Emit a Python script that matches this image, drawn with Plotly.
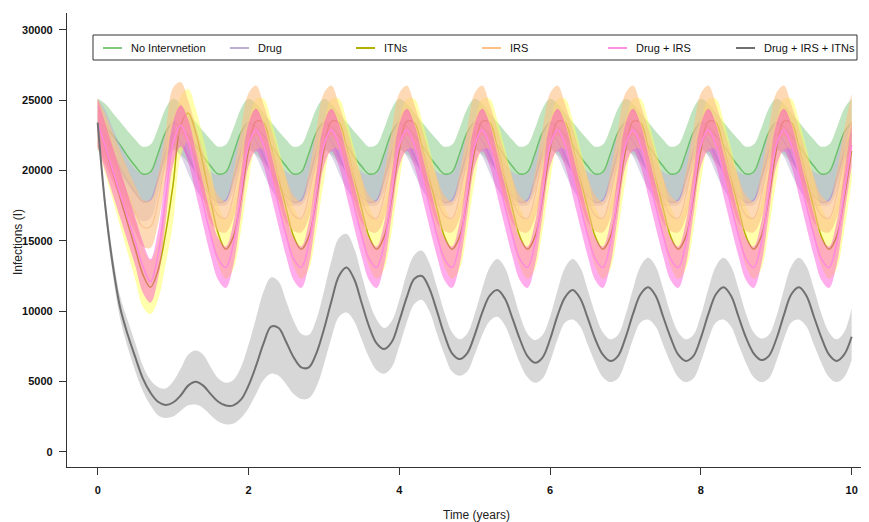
import plotly.graph_objects as go

# ---------------- data ----------------
years = [round(0.1 * i, 1) for i in range(101)]

series_names = ["No Intervnetion", "Drug", "ITNs", "IRS", "Drug + IRS", "Drug + IRS + ITNs"]

no_int_mean = [
    23400, 23100, 22500, 21800, 21000, 20300, 19750, 19900, 21200, 22700,
    23400, 23100, 22500, 21800, 21000, 20300, 19750, 19900, 21200, 22700,
    23400, 23100, 22500, 21800, 21000, 20300, 19750, 19900, 21200, 22700,
    23400, 23100, 22500, 21800, 21000, 20300, 19750, 19900, 21200, 22700,
    23400, 23100, 22500, 21800, 21000, 20300, 19750, 19900, 21200, 22700,
    23400, 23100, 22500, 21800, 21000, 20300, 19750, 19900, 21200, 22700,
    23400, 23100, 22500, 21800, 21000, 20300, 19750, 19900, 21200, 22700,
    23400, 23100, 22500, 21800, 21000, 20300, 19750, 19900, 21200, 22700,
    23400, 23100, 22500, 21800, 21000, 20300, 19750, 19900, 21200, 22700,
    23400, 23100, 22500, 21800, 21000, 20300, 19750, 19900, 21200, 22700,
    23400]
no_int_hi = [
    25100, 24750, 24100, 23450, 22800, 22200, 21700, 21850, 23000, 24400,
    25100, 24750, 24100, 23450, 22800, 22200, 21700, 21850, 23000, 24400,
    25100, 24750, 24100, 23450, 22800, 22200, 21700, 21850, 23000, 24400,
    25100, 24750, 24100, 23450, 22800, 22200, 21700, 21850, 23000, 24400,
    25100, 24750, 24100, 23450, 22800, 22200, 21700, 21850, 23000, 24400,
    25100, 24750, 24100, 23450, 22800, 22200, 21700, 21850, 23000, 24400,
    25100, 24750, 24100, 23450, 22800, 22200, 21700, 21850, 23000, 24400,
    25100, 24750, 24100, 23450, 22800, 22200, 21700, 21850, 23000, 24400,
    25100, 24750, 24100, 23450, 22800, 22200, 21700, 21850, 23000, 24400,
    25100, 24750, 24100, 23450, 22800, 22200, 21700, 21850, 23000, 24400,
    25100]
no_int_lo = [
    21450, 21150, 20550, 19850, 19050, 18350, 17800, 17950, 19250, 20750,
    21450, 21150, 20550, 19850, 19050, 18350, 17800, 17950, 19250, 20750,
    21450, 21150, 20550, 19850, 19050, 18350, 17800, 17950, 19250, 20750,
    21450, 21150, 20550, 19850, 19050, 18350, 17800, 17950, 19250, 20750,
    21450, 21150, 20550, 19850, 19050, 18350, 17800, 17950, 19250, 20750,
    21450, 21150, 20550, 19850, 19050, 18350, 17800, 17950, 19250, 20750,
    21450, 21150, 20550, 19850, 19050, 18350, 17800, 17950, 19250, 20750,
    21450, 21150, 20550, 19850, 19050, 18350, 17800, 17950, 19250, 20750,
    21450, 21150, 20550, 19850, 19050, 18350, 17800, 17950, 19250, 20750,
    21450, 21150, 20550, 19850, 19050, 18350, 17800, 17950, 19250, 20750,
    21450]

drug_mean = [
    23400, 22500, 21300, 20200, 19200, 18400, 17800, 17900, 19400, 21300,
    22600, 22100, 21000, 19900, 18900, 18200, 17750, 17900, 19400, 21300,
    22600, 22100, 21000, 19900, 18900, 18200, 17750, 17900, 19400, 21300,
    22600, 22100, 21000, 19900, 18900, 18200, 17750, 17900, 19400, 21300,
    22600, 22100, 21000, 19900, 18900, 18200, 17750, 17900, 19400, 21300,
    22600, 22100, 21000, 19900, 18900, 18200, 17750, 17900, 19400, 21300,
    22600, 22100, 21000, 19900, 18900, 18200, 17750, 17900, 19400, 21300,
    22600, 22100, 21000, 19900, 18900, 18200, 17750, 17900, 19400, 21300,
    22600, 22100, 21000, 19900, 18900, 18200, 17750, 17900, 19400, 21300,
    22600, 22100, 21000, 19900, 18900, 18200, 17750, 17900, 19400, 21300,
    22600]
drug_hi = [
    25100, 24300, 23000, 21800, 20800, 20100, 19700, 19800, 21000, 22600,
    23500, 23200, 22400, 21500, 20600, 19900, 19700, 19800, 21000, 22600,
    23500, 23200, 22400, 21500, 20600, 19900, 19700, 19800, 21000, 22600,
    23500, 23200, 22400, 21500, 20600, 19900, 19700, 19800, 21000, 22600,
    23500, 23200, 22400, 21500, 20600, 19900, 19700, 19800, 21000, 22600,
    23500, 23200, 22400, 21500, 20600, 19900, 19700, 19800, 21000, 22600,
    23500, 23200, 22400, 21500, 20600, 19900, 19700, 19800, 21000, 22600,
    23500, 23200, 22400, 21500, 20600, 19900, 19700, 19800, 21000, 22600,
    23500, 23200, 22400, 21500, 20600, 19900, 19700, 19800, 21000, 22600,
    23500, 23200, 22400, 21500, 20600, 19900, 19700, 19800, 21000, 22600,
    23500]
drug_lo = [
    21700, 20700, 19600, 18500, 17500, 16800, 16400, 16600, 18300, 20200,
    21600, 21000, 19800, 18700, 17900, 17500, 17500, 17550, 18500, 20200,
    21600, 21000, 19800, 18700, 17900, 17500, 17500, 17550, 18500, 20200,
    21600, 21000, 19800, 18700, 17900, 17500, 17500, 17550, 18500, 20200,
    21600, 21000, 19800, 18700, 17900, 17500, 17500, 17550, 18500, 20200,
    21600, 21000, 19800, 18700, 17900, 17500, 17500, 17550, 18500, 20200,
    21600, 21000, 19800, 18700, 17900, 17500, 17500, 17550, 18500, 20200,
    21600, 21000, 19800, 18700, 17900, 17500, 17500, 17550, 18500, 20200,
    21600, 21000, 19800, 18700, 17900, 17500, 17500, 17550, 18500, 20200,
    21600, 21000, 19800, 18700, 17900, 17500, 17500, 17550, 18500, 20200,
    21600]

itn_mean = [
    23400, 21600, 19800, 18000, 16200, 14400, 12600, 11700, 12900, 15500,
    19000, 23200, 24100, 22700, 20400, 17800, 15500, 14400, 15300, 18000,
    21400, 23500, 23400, 21600, 19500, 17300, 15300, 14400, 15300, 18000,
    21400, 23500, 23400, 21600, 19500, 17300, 15300, 14400, 15300, 18000,
    21400, 23500, 23400, 21600, 19500, 17300, 15300, 14400, 15300, 18000,
    21400, 23500, 23400, 21600, 19500, 17300, 15300, 14400, 15300, 18000,
    21400, 23500, 23400, 21600, 19500, 17300, 15300, 14400, 15300, 18000,
    21400, 23500, 23400, 21600, 19500, 17300, 15300, 14400, 15300, 18000,
    21400, 23500, 23400, 21600, 19500, 17300, 15300, 14400, 15300, 18000,
    21400, 23500, 23400, 21600, 19500, 17300, 15300, 14400, 15300, 18000,
    21400]
itn_hi = [
    25100, 23500, 21800, 20000, 18200, 16400, 14600, 13600, 14900, 17600,
    21800, 25300, 25800, 24400, 22300, 19900, 17500, 16500, 17700, 20300,
    23300, 25100, 25100, 23600, 21600, 19400, 17400, 16500, 17700, 20300,
    23300, 25100, 25100, 23600, 21600, 19400, 17400, 16500, 17700, 20300,
    23300, 25100, 25100, 23600, 21600, 19400, 17400, 16500, 17700, 20300,
    23300, 25100, 25100, 23600, 21600, 19400, 17400, 16500, 17700, 20300,
    23300, 25100, 25100, 23600, 21600, 19400, 17400, 16500, 17700, 20300,
    23300, 25100, 25100, 23600, 21600, 19400, 17400, 16500, 17700, 20300,
    23300, 25100, 25100, 23600, 21600, 19400, 17400, 16500, 17700, 20300,
    23300, 25100, 25100, 23600, 21600, 19400, 17400, 16500, 17700, 20300,
    23300]
itn_lo = [
    21700, 19800, 17900, 16000, 14100, 12200, 10300, 9800, 10800, 13300,
    16300, 21000, 22100, 20700, 18300, 15600, 13300, 12300, 13000, 15700,
    19200, 21500, 21500, 19700, 17500, 15200, 13200, 12300, 13000, 15700,
    19200, 21500, 21500, 19700, 17500, 15200, 13200, 12300, 13000, 15700,
    19200, 21500, 21500, 19700, 17500, 15200, 13200, 12300, 13000, 15700,
    19200, 21500, 21500, 19700, 17500, 15200, 13200, 12300, 13000, 15700,
    19200, 21500, 21500, 19700, 17500, 15200, 13200, 12300, 13000, 15700,
    19200, 21500, 21500, 19700, 17500, 15200, 13200, 12300, 13000, 15700,
    19200, 21500, 21500, 19700, 17500, 15200, 13200, 12300, 13000, 15700,
    19200, 21500, 21500, 19700, 17500, 15200, 13200, 12300, 13000, 15700,
    19200]

irs_mean = [
    23400, 22200, 20900, 19600, 18300, 17000, 16000, 16000, 17800, 20800,
    23700, 24500, 23500, 21600, 19700, 17900, 16800, 16600, 18200, 21000,
    23500, 24300, 23300, 21500, 19600, 17900, 16800, 16600, 18200, 21000,
    23500, 24300, 23300, 21500, 19600, 17900, 16800, 16600, 18200, 21000,
    23500, 24300, 23300, 21500, 19600, 17900, 16800, 16600, 18200, 21000,
    23500, 24300, 23300, 21500, 19600, 17900, 16800, 16600, 18200, 21000,
    23500, 24300, 23300, 21500, 19600, 17900, 16800, 16600, 18200, 21000,
    23500, 24300, 23300, 21500, 19600, 17900, 16800, 16600, 18200, 21000,
    23500, 24300, 23300, 21500, 19600, 17900, 16800, 16600, 18200, 21000,
    23500, 24300, 23300, 21500, 19600, 17900, 16800, 16600, 18200, 21000,
    23500]
irs_hi = [
    25100, 24000, 22700, 21400, 20100, 18900, 17900, 17900, 19600, 22700,
    25900, 26300, 25000, 23100, 21300, 19500, 18200, 17800, 19800, 22900,
    25500, 26050, 24700, 23000, 21200, 19500, 18200, 17800, 19800, 22900,
    25500, 26050, 24700, 23000, 21200, 19500, 18200, 17800, 19800, 22900,
    25500, 26050, 24700, 23000, 21200, 19500, 18200, 17800, 19800, 22900,
    25500, 26050, 24700, 23000, 21200, 19500, 18200, 17800, 19800, 22900,
    25500, 26050, 24700, 23000, 21200, 19500, 18200, 17800, 19800, 22900,
    25500, 26050, 24700, 23000, 21200, 19500, 18200, 17800, 19800, 22900,
    25500, 26050, 24700, 23000, 21200, 19500, 18200, 17800, 19800, 22900,
    25500, 26050, 24700, 23000, 21200, 19500, 18200, 17800, 19800, 22900,
    25500]
irs_lo = [
    21600, 20400, 19200, 18000, 16800, 15600, 14600, 14500, 16200, 19200,
    21500, 22600, 21700, 19900, 18000, 16300, 15700, 15600, 16600, 19000,
    21500, 22500, 21500, 19700, 17900, 16300, 15700, 15600, 16600, 19000,
    21500, 22500, 21500, 19700, 17900, 16300, 15700, 15600, 16600, 19000,
    21500, 22500, 21500, 19700, 17900, 16300, 15700, 15600, 16600, 19000,
    21500, 22500, 21500, 19700, 17900, 16300, 15700, 15600, 16600, 19000,
    21500, 22500, 21500, 19700, 17900, 16300, 15700, 15600, 16600, 19000,
    21500, 22500, 21500, 19700, 17900, 16300, 15700, 15600, 16600, 19000,
    21500, 22500, 21500, 19700, 17900, 16300, 15700, 15600, 16600, 19000,
    21500, 22500, 21500, 19700, 17900, 16300, 15700, 15600, 16600, 19000,
    21500]

drug_irs_mean = [
    23400, 21700, 20000, 18300, 16600, 14900, 13200, 12100, 14000, 18000,
    21900, 23200, 22100, 19900, 17600, 15400, 13700, 13100, 14800, 18300,
    21800, 22900, 21800, 19700, 17500, 15400, 13700, 13100, 14800, 18300,
    21800, 22900, 21800, 19700, 17500, 15400, 13700, 13100, 14800, 18300,
    21800, 22900, 21800, 19700, 17500, 15400, 13700, 13100, 14800, 18300,
    21800, 22900, 21800, 19700, 17500, 15400, 13700, 13100, 14800, 18300,
    21800, 22900, 21800, 19700, 17500, 15400, 13700, 13100, 14800, 18300,
    21800, 22900, 21800, 19700, 17500, 15400, 13700, 13100, 14800, 18300,
    21800, 22900, 21800, 19700, 17500, 15400, 13700, 13100, 14800, 18300,
    21800, 22900, 21800, 19700, 17500, 15400, 13700, 13100, 14800, 18300,
    21800]
drug_irs_hi = [
    25100, 23400, 21700, 20000, 18300, 16600, 14900, 13700, 15700, 19700,
    23400, 24650, 23600, 21400, 19100, 16900, 15200, 14600, 16300, 19800,
    23300, 24400, 23300, 21200, 19000, 16900, 15200, 14600, 16300, 19800,
    23300, 24400, 23300, 21200, 19000, 16900, 15200, 14600, 16300, 19800,
    23300, 24400, 23300, 21200, 19000, 16900, 15200, 14600, 16300, 19800,
    23300, 24400, 23300, 21200, 19000, 16900, 15200, 14600, 16300, 19800,
    23300, 24400, 23300, 21200, 19000, 16900, 15200, 14600, 16300, 19800,
    23300, 24400, 23300, 21200, 19000, 16900, 15200, 14600, 16300, 19800,
    23300, 24400, 23300, 21200, 19000, 16900, 15200, 14600, 16300, 19800,
    23300, 24400, 23300, 21200, 19000, 16900, 15200, 14600, 16300, 19800,
    23300]
drug_irs_lo = [
    21700, 20000, 18300, 16600, 14900, 13200, 11300, 10600, 12300, 16300,
    20400, 21700, 20600, 18400, 16100, 13900, 12200, 11650, 13300, 16800,
    20300, 21400, 20300, 18200, 16000, 13900, 12200, 11650, 13300, 16800,
    20300, 21400, 20300, 18200, 16000, 13900, 12200, 11650, 13300, 16800,
    20300, 21400, 20300, 18200, 16000, 13900, 12200, 11650, 13300, 16800,
    20300, 21400, 20300, 18200, 16000, 13900, 12200, 11650, 13300, 16800,
    20300, 21400, 20300, 18200, 16000, 13900, 12200, 11650, 13300, 16800,
    20300, 21400, 20300, 18200, 16000, 13900, 12200, 11650, 13300, 16800,
    20300, 21400, 20300, 18200, 16000, 13900, 12200, 11650, 13300, 16800,
    20300, 21400, 20300, 18200, 16000, 13900, 12200, 11650, 13300, 16800,
    20300]

all3_mean = [
    23400, 17500, 13300, 10200, 8300, 6700, 5200, 4200, 3550, 3330,
    3500, 4000, 4700, 4980, 4700, 4100, 3550, 3280, 3300, 3700,
    4700, 6100, 7700, 8900, 8800, 7800, 6700, 6000, 6000, 7000,
    8700, 10700, 12500, 13100, 12300, 10600, 8900, 7700, 7300, 7800,
    9300, 11000, 12300, 12500, 11600, 10000, 8300, 7000, 6600, 7000,
    8300, 9900, 11100, 11500, 10900, 9500, 8000, 6800, 6330, 6700,
    8000, 9700, 11000, 11500, 10900, 9500, 8000, 6900, 6450, 6800,
    8100, 9800, 11200, 11700, 11100, 9600, 8100, 6900, 6460, 6800,
    8100, 9800, 11200, 11700, 11100, 9600, 8100, 7000, 6520, 6800,
    8000, 9700, 11200, 11700, 11100, 9600, 8100, 6900, 6450, 6900,
    8180]
all3_hi = [
    23700, 18100, 14000, 11000, 9300, 7700, 6100, 5100, 4600, 4500,
    5000, 5900, 6900, 7200, 6900, 6000, 5200, 4900, 5100, 6000,
    7600, 9500, 11400, 12400, 12100, 10700, 9300, 8400, 8300, 9400,
    11400, 13600, 15200, 15500, 14500, 12600, 10700, 9400, 8800, 9300,
    10800, 12700, 14000, 14300, 13400, 11700, 9900, 8500, 8000, 8400,
    9800, 11600, 13100, 13700, 13100, 11500, 9700, 8400, 7950, 8300,
    9600, 11500, 13100, 13700, 13100, 11500, 9800, 8500, 8000, 8300,
    9700, 11600, 13200, 13800, 13200, 11600, 9800, 8500, 8000, 8300,
    9700, 11600, 13200, 13800, 13200, 11600, 9800, 8500, 8050, 8300,
    9600, 11500, 13200, 13800, 13200, 11600, 9800, 8500, 8000, 8500,
    10200]
all3_lo = [
    23000, 16900, 12600, 9400, 7400, 5700, 4300, 3300, 2600, 2400,
    2500, 2900, 3300, 3350, 3100, 2600, 2150, 1950, 2000, 2400,
    3100, 4100, 5100, 5550, 5400, 4800, 4100, 3750, 3800, 4600,
    6200, 8100, 9600, 9900, 9300, 8000, 6700, 5800, 5550, 6000,
    7500, 9200, 10500, 10800, 10000, 8400, 6900, 5700, 5400, 5700,
    6900, 8300, 9300, 9600, 9000, 7700, 6300, 5300, 4900, 5200,
    6400, 8000, 9200, 9400, 8900, 7600, 6300, 5300, 4950, 5200,
    6400, 8000, 9200, 9400, 8900, 7600, 6300, 5300, 4950, 5200,
    6400, 8000, 9200, 9400, 8900, 7600, 6300, 5300, 4950, 5200,
    6400, 8000, 9200, 9400, 8900, 7600, 6300, 5300, 4950, 5300,
    6520]

x_ticks = [0, 2, 4, 6, 8, 10]
y_ticks = [0, 5000, 10000, 15000, 20000, 25000, 30000]
y_tick_labels = ["0", "5000", "10000", "15000", "20000", "25000", "30000"]

# ---------------- styling ----------------
FONT = "Liberation Sans, Arial, sans-serif"
PAGE_OFF = 8                       # default body margin of the html page
W, H = 869 - PAGE_OFF, 522 - PAGE_OFF
L, R, T, B = 67 - PAGE_OFF, 0, 13 - PAGE_OFF, 55
PW, PH = W - L - R, H - T - B      # 802 x 454 plot area


def px_x(p):  # page pixel -> paper x
    return (p - 67) / PW


def px_y(p):  # page pixel -> paper y
    return (467 - p) / PH


styles = [
    # name, mean, lo, hi, fill, line, legend line colour, line width
    (series_names[0], no_int_mean, no_int_lo, no_int_hi, "rgba(127,201,127,0.5)", "#6cc06c", "#7fc97f", 1.5),
    (series_names[1], drug_mean, drug_lo, drug_hi, "rgba(190,174,212,0.5)", "#b3a3cf", "#beaed4", 1.5),
    (series_names[2], itn_mean, itn_lo, itn_hi, "rgba(255,255,90,0.5)", "#b5b000", "#b5b000", 1.5),
    (series_names[3], irs_mean, irs_lo, irs_hi, "rgba(253,192,134,0.6)", "#f9c490", "#fdc086", 1.2),
    (series_names[4], drug_irs_mean, drug_irs_lo, drug_irs_hi, "rgba(255,60,210,0.42)", "#ff88e0", "#ff8fe0", 1.5),
    (series_names[5], all3_mean, all3_lo, all3_hi, "rgba(160,160,160,0.42)", "#707070", "#707070", 2),
]

fig = go.Figure()
for name, mean, lo, hi, fill, line, _, lw in styles:
    fig.add_trace(go.Scatter(x=years, y=lo, mode="lines", line=dict(width=0, shape="spline"),
                             showlegend=False, hoverinfo="skip"))
    fig.add_trace(go.Scatter(x=years, y=hi, mode="lines", line=dict(width=0, shape="spline"),
                             fill="tonexty", fillcolor=fill, showlegend=False, hoverinfo="skip"))
    fig.add_trace(go.Scatter(x=years, y=mean, mode="lines", name=name,
                             line=dict(color=line, width=lw, shape="spline"), showlegend=False))

# legend drawn as a boxed row (positions in page pixels)
shapes = [dict(type="rect", xref="paper", yref="paper",
               x0=px_x(93), x1=px_x(857), y0=px_y(60), y1=px_y(35),
               line=dict(color="#333333", width=1), fillcolor="rgba(255,255,255,0)", layer="above")]
annotations = []
leg_line_x = [103, 230, 356, 482, 608, 736]
for i, st in enumerate(styles):
    name, lcol = st[0], st[6]
    x0 = leg_line_x[i]
    shapes.append(dict(type="line", xref="paper", yref="paper",
                       x0=px_x(x0), x1=px_x(x0 + 19), y0=px_y(48), y1=px_y(48),
                       line=dict(color=lcol, width=2), layer="above"))
    annotations.append(dict(text=name, xref="paper", yref="paper", x=px_x(x0 + 26), y=px_y(48),
                            xanchor="left", yanchor="middle", showarrow=False,
                            font=dict(family=FONT, size=11, color="#111111")))

annotations.append(dict(text="Time (years)", xref="paper", yref="paper", x=px_x(476), y=px_y(515),
                        xanchor="center", yanchor="middle", showarrow=False,
                        font=dict(family=FONT, size=12, color="#222222")))
annotations.append(dict(text="Infections (I)", xref="paper", yref="paper", x=px_x(18), y=px_y(242),
                        xanchor="center", yanchor="middle", showarrow=False, textangle=-90,
                        font=dict(family=FONT, size=12, color="#222222")))

fig.update_layout(
    width=W, height=H,
    margin=dict(l=L, r=R, t=T, b=B, pad=0),
    paper_bgcolor="white", plot_bgcolor="white",
    showlegend=False,
    shapes=shapes, annotations=annotations,
    xaxis=dict(range=[-0.407, 10.23], tickvals=x_ticks, ticks="outside", ticklen=7,
               tickwidth=1, tickcolor="#333333", showline=True, linecolor="#333333", linewidth=1.3,
               showgrid=False, zeroline=False, ticklabelstandoff=6,
               tickfont=dict(family=FONT, size=11, color="#111111", weight="bold")),
    yaxis=dict(range=[-1088, 31209], tickvals=y_ticks, ticktext=y_tick_labels, ticks="outside",
               ticklen=7, tickwidth=1, tickcolor="#333333", showline=True, linecolor="#333333",
               linewidth=1.3, showgrid=False, zeroline=False, ticklabelstandoff=4,
               tickfont=dict(family=FONT, size=11, color="#111111", weight="bold")),
)

fig.write_html("out.html")
